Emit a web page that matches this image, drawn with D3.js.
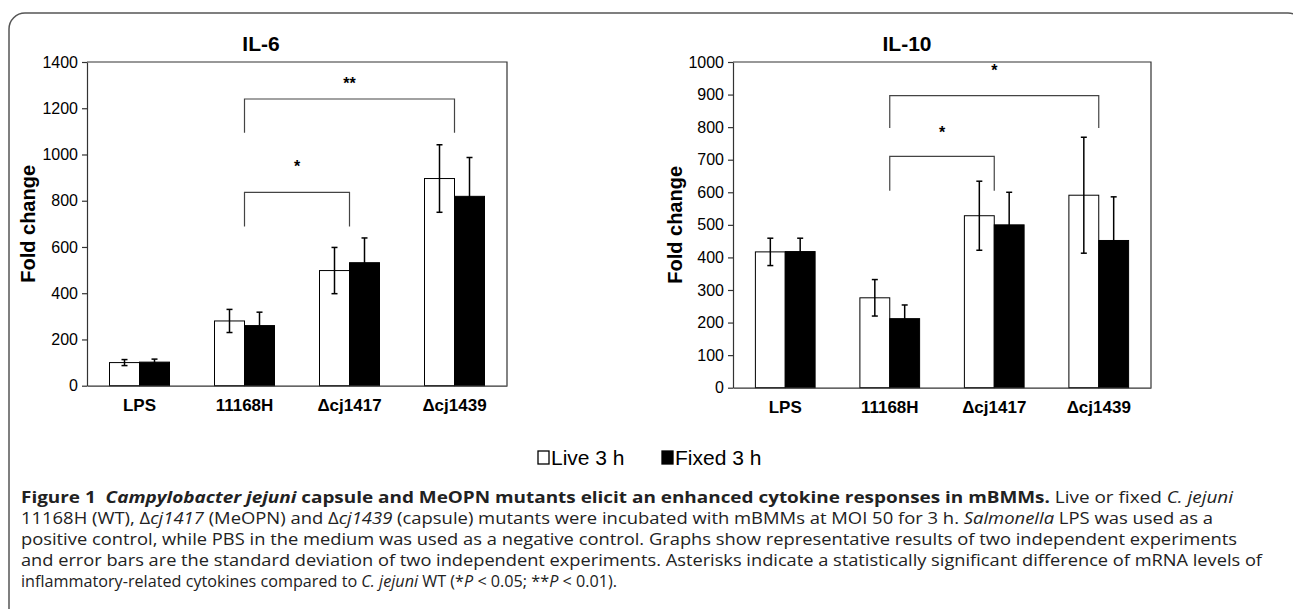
<!DOCTYPE html>
<html>
<head>
<meta charset="utf-8">
<script src="https://cdn.jsdelivr.net/npm/d3@7"></script>
<style>
  body { margin: 0; background: #fff; }
  svg { display: block; }
  .tick text { font-family: "Liberation Sans", Arial, sans-serif; }
</style>
</head>
<body>
<svg id="fig" width="1293" height="609"></svg>
<script>
// chart data
const categories = ["LPS", "11168H", "\u0394cj1417", "\u0394cj1439"];
const seriesNames = ["Live 3 h", "Fixed 3 h"];
const seriesFill = ["#fff", "#000"];

const il6Live = [100, 280, 498, 896];
const il6LiveErr = [13, 50, 100, 146];
const il6Fixed = [102, 260, 532, 819];
const il6FixedErr = [13, 58, 107, 168];

const il10Live = [417, 276, 528, 591];
const il10LiveErr = [42, 56, 106, 178];
const il10Fixed = [418, 212, 500, 452];
const il10FixedErr = [41, 42, 100, 134];

const il6Ticks = [0, 200, 400, 600, 800, 1000, 1200, 1400];
const il10Ticks = [0, 100, 200, 300, 400, 500, 600, 700, 800, 900, 1000];

// significance brackets: from/to category index, top, drop, label height
const il6Sig = [
  { from: 1, to: 2, top: 836, drop: 689, label: "*", labelY: 925 },
  { from: 1, to: 3, top: 1240, drop: 1094, label: "**", labelY: 1285 }
];
const il10Sig = [
  { from: 1, to: 2, top: 710, drop: 605, label: "*", labelY: 766 },
  { from: 1, to: 3, top: 897, drop: 797, label: "*", labelY: 958 }
];

const svg = d3.select("#fig");
const font = '"Liberation Sans", Arial, sans-serif';

// outer rounded frame
svg.append("rect")
  .attr("x", 9).attr("y", 13)
  .attr("width", 1295).attr("height", 700)
  .attr("rx", 16)
  .attr("fill", "none")
  .attr("stroke", "#555")
  .attr("stroke-width", 1.5);

function drawChart(opt) {
  const { left, right, top, bottom, max, ticks, live, liveErr, fixed, fixedErr, sig, title, titleX, ylabX } = opt;

  const x = d3.scaleBand().domain(categories).range([left, right]);
  const bar = x.bandwidth() / 3.5;
  const x1 = d3.scaleBand().domain(seriesNames)
    .range([bar * 0.75, bar * 2.75]);
  const y = d3.scaleLinear().domain([0, max]).range([bottom, top]);

  const g = svg.append("g");

  // frame top/right
  g.append("path")
    .attr("d", `M${left},${top}H${right}V${bottom}`)
    .attr("fill", "none").attr("stroke", "#333").attr("stroke-width", 1.2);

  const rows = [];
  categories.forEach((c, i) => {
    rows.push({ c, s: seriesNames[0], v: live[i], e: liveErr[i], f: seriesFill[0] });
    rows.push({ c, s: seriesNames[1], v: fixed[i], e: fixedErr[i], f: seriesFill[1] });
  });

  g.selectAll("rect.bar").data(rows).enter().append("rect")
    .attr("class", "bar")
    .attr("x", d => x(d.c) + x1(d.s))
    .attr("y", d => y(d.v))
    .attr("width", x1.bandwidth())
    .attr("height", d => y(0) - y(d.v))
    .attr("fill", d => d.f)
    .attr("stroke", "#000")
    .attr("stroke-width", 1);

  // error bars
  const eb = g.selectAll("g.err").data(rows).enter().append("g")
    .attr("stroke", "#000").attr("stroke-width", 1.5);
  const cx = d => x(d.c) + x1(d.s) + x1.bandwidth() / 2;
  eb.append("line")
    .attr("x1", cx).attr("x2", cx)
    .attr("y1", d => y(d.v - d.e)).attr("y2", d => y(d.v + d.e));
  eb.append("line")
    .attr("x1", d => cx(d) - 3).attr("x2", d => cx(d) + 3)
    .attr("y1", d => y(d.v + d.e)).attr("y2", d => y(d.v + d.e));
  eb.append("line")
    .attr("x1", d => cx(d) - 3).attr("x2", d => cx(d) + 3)
    .attr("y1", d => y(d.v - d.e)).attr("y2", d => y(d.v - d.e));

  // y axis
  const ya = g.append("g")
    .attr("transform", `translate(${left},0)`)
    .call(d3.axisLeft(y).tickValues(ticks).tickFormat(d3.format("d"))
      .tickSize(5).tickSizeOuter(0).tickPadding(4));
  ya.selectAll("text").attr("font-size", 16).attr("fill", "#000");
  ya.selectAll("line, path").attr("stroke", "#333").attr("stroke-width", 1.2);

  // x axis
  const xa = g.append("g")
    .attr("transform", `translate(0,${bottom})`)
    .call(d3.axisBottom(x).tickSize(0).tickSizeOuter(0).tickPadding(13));
  xa.selectAll("text").attr("font-size", 17).attr("font-weight", "bold").attr("fill", "#000");
  xa.select("path").attr("stroke", "#333").attr("stroke-width", 1.2);

  // significance brackets
  sig.forEach(s => {
    const xa0 = x(categories[s.from]) + x.bandwidth() / 2;
    const xb0 = x(categories[s.to]) + x.bandwidth() / 2;
    g.append("path")
      .attr("d", `M${xa0},${y(s.drop)}V${y(s.top)}H${xb0}V${y(s.drop)}`)
      .attr("fill", "none").attr("stroke", "#444").attr("stroke-width", 1.2);
    g.append("text")
      .attr("x", (xa0 + xb0) / 2).attr("y", y(s.labelY))
      .attr("text-anchor", "middle")
      .attr("font-family", font).attr("font-size", 16).attr("font-weight", "bold")
      .text(s.label);
  });

  // title
  g.append("text")
    .attr("x", titleX).attr("y", 51)
    .attr("text-anchor", "middle")
    .attr("font-family", font).attr("font-size", 21).attr("font-weight", "bold")
    .text(title);

  // y label
  g.append("text")
    .attr("transform", `translate(${ylabX},${(top + bottom) / 2}) rotate(-90)`)
    .attr("text-anchor", "middle")
    .attr("font-family", font).attr("font-size", 20).attr("font-weight", "bold")
    .text("Fold change");
}

drawChart({
  left: 87, right: 507, top: 62, bottom: 385.7, max: 1400, ticks: il6Ticks,
  live: il6Live, liveErr: il6LiveErr, fixed: il6Fixed, fixedErr: il6FixedErr,
  sig: il6Sig, title: "IL-6", titleX: 261, ylabX: 35
});
drawChart({
  left: 733, right: 1151, top: 62, bottom: 387.7, max: 1000, ticks: il10Ticks,
  live: il10Live, liveErr: il10LiveErr, fixed: il10Fixed, fixedErr: il10FixedErr,
  sig: il10Sig, title: "IL-10", titleX: 907, ylabX: 682
});

// legend
const leg = svg.append("g").attr("font-family", font).attr("font-size", 21);
const legItems = [
  { name: seriesNames[0], fill: seriesFill[0], x: 538 },
  { name: seriesNames[1], fill: seriesFill[1], x: 662 }
];
legItems.forEach(d => {
  leg.append("rect")
    .attr("x", d.x).attr("y", 451).attr("width", 11).attr("height", 13)
    .attr("fill", d.fill).attr("stroke", "#000").attr("stroke-width", 1.3);
  leg.append("text").attr("x", d.x + 13).attr("y", 465).text(d.name);
});

// caption
const capLines = [
  { w: 1212, parts: [["b", "Figure 1  "], ["bi", "Campylobacter jejuni"], ["b", " capsule and MeOPN mutants elicit an enhanced cytokine responses in mBMMs."], ["n", " Live or fixed "], ["i", "C. jejuni"]] },
  { w: 1192, parts: [["n", "11168H (WT), \u0394"], ["i", "cj1417"], ["n", " (MeOPN) and \u0394"], ["i", "cj1439"], ["n", " (capsule) mutants were incubated with mBMMs at MOI 50 for 3 h. "], ["i", "Salmonella"], ["n", " LPS was used as a"]] },
  { w: 1216, parts: [["n", "positive control, while PBS in the medium was used as a negative control. Graphs show representative results of two independent experiments"]] },
  { w: 1241, parts: [["n", "and error bars are the standard deviation of two independent experiments. Asterisks indicate a statistically significant difference of mRNA levels of"]] },
  { w: 596, parts: [["n", "inflammatory-related cytokines compared to "], ["i", "C. jejuni"], ["n", " WT (*"], ["i", "P"], ["n", " < 0.05; **"], ["i", "P"], ["n", " < 0.01)."]] }
];
const capY = [503, 524, 545, 566, 587];
capLines.forEach((ln, i) => {
  const t = svg.append("text")
    .attr("x", 21).attr("y", capY[i])
    .attr("font-family", '"Open Sans", "Noto Sans", sans-serif')
    .attr("font-size", 15.5)
    .attr("fill", "#222")
    .style("white-space", "pre");
  ln.parts.forEach(p => {
    t.append("tspan")
      .attr("font-weight", p[0].includes("b") ? "bold" : null)
      .attr("font-style", p[0].includes("i") ? "italic" : null)
      .text(p[1]);
  });
  t.attr("textLength", ln.w).attr("lengthAdjust", "spacingAndGlyphs");
});
</script>
</body>
</html>
